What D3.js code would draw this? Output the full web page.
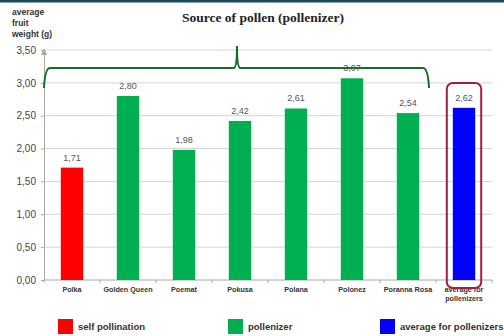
<!DOCTYPE html>
<html>
<head>
<meta charset="utf-8">
<script src="https://cdn.jsdelivr.net/npm/d3@7"></script>
<style>
  html, body { margin: 0; padding: 0; background: #fff; }
  svg { display: block; }
</style>
</head>
<body>
<script>
// Average fruit weight of 'Polka' raspberry by pollen source
const categories = ["Polka", "Golden Queen", "Poemat", "Pokusa", "Polana", "Polonez", "Poranna Rosa", "average for pollenizers"];
const values = [1.71, 2.80, 1.98, 2.42, 2.61, 3.07, 2.54, 2.62];
const groups = ["self", "pollenizer", "pollenizer", "pollenizer", "pollenizer", "pollenizer", "pollenizer", "average"];
const yTicks = [0, 0.5, 1.0, 1.5, 2.0, 2.5, 3.0, 3.5];
const legendLabels = ["self pollination", "pollenizer", "average for pollenizers"];
const legendKeys = ["self", "pollenizer", "average"];

const W = 504, H = 336;
const colors = { self: "#ff0000", pollenizer: "#00b050", average: "#0000ff" };
const fmt = v => d3.format(".2f")(v).replace(".", ",");

const svg = d3.select("body").append("svg").attr("width", W).attr("height", H);

// top frame strip
svg.append("rect").attr("x", 0).attr("y", 0).attr("width", W).attr("height", 2.5).attr("fill", "#1d4b5c");

const x = d3.scaleBand().domain(categories).range([44, 492]).paddingInner(0.6).paddingOuter(0.3);
const y = d3.scaleLinear().domain([0, 3.5]).range([280, 50]);

// gridlines
svg.append("g").selectAll("line").data(yTicks.filter(t => t > 0)).join("line")
  .attr("x1", 44).attr("x2", 492)
  .attr("y1", d => y(d)).attr("y2", d => y(d))
  .attr("stroke", "#d4d4d4").attr("stroke-width", 1);

// y axis
const yAxis = svg.append("g").attr("transform", "translate(44,0)")
  .call(d3.axisLeft(y).tickValues(yTicks).tickFormat(fmt).tickSize(3).tickPadding(5));
yAxis.select(".domain").attr("stroke", "#a8a8a8");
yAxis.selectAll(".tick line").attr("stroke", "#a8a8a8");
yAxis.selectAll("text").attr("font-family", "Liberation Sans, Arial, sans-serif")
  .attr("font-size", 10).attr("fill", "#444");
// small arrow head on top of the value axis
svg.append("path").attr("d", `M41,${y(3.5) + 5}L44,${y(3.5) - 2}L47,${y(3.5) + 5}Z`).attr("fill", "#a8a8a8");

// x axis line with category separators
svg.append("line").attr("x1", 44).attr("x2", 492).attr("y1", y(0)).attr("y2", y(0))
  .attr("stroke", "#a8a8a8");
svg.append("g").selectAll("line").data(d3.range(categories.length + 1)).join("line")
  .attr("x1", i => 44 + i * (448 / categories.length))
  .attr("x2", i => 44 + i * (448 / categories.length))
  .attr("y1", y(0)).attr("y2", y(0) + 3)
  .attr("stroke", "#a8a8a8");

// bars
svg.append("g").selectAll("rect").data(categories).join("rect")
  .attr("x", d => x(d)).attr("width", x.bandwidth())
  .attr("y", (d, i) => y(values[i]))
  .attr("height", (d, i) => y(0) - y(values[i]))
  .attr("fill", (d, i) => colors[groups[i]]);

// value labels
svg.append("g").selectAll("text").data(categories).join("text")
  .attr("x", d => x(d) + x.bandwidth() / 2)
  .attr("y", (d, i) => y(values[i]) - 7)
  .attr("text-anchor", "middle")
  .attr("font-family", "Liberation Sans, Arial, sans-serif")
  .attr("font-size", 9).attr("fill", "#555")
  .text((d, i) => fmt(values[i]));

// category labels
const xl = svg.append("g").selectAll("text").data(categories).join("text")
  .attr("x", d => x(d) + x.bandwidth() / 2)
  .attr("y", 292)
  .attr("text-anchor", "middle")
  .attr("font-family", "Liberation Sans, Arial, sans-serif")
  .attr("font-size", 7.2).attr("font-weight", "bold").attr("fill", "#333");
xl.each(function(d) {
  const parts = d === "average for pollenizers" ? ["average for", "pollenizers"] : [d];
  d3.select(this).selectAll("tspan").data(parts).join("tspan")
    .attr("x", x(d) + x.bandwidth() / 2)
    .attr("dy", (p, i) => i === 0 ? 0 : 9)
    .text(p => p);
});

// bracket over the pollenizer group
const bx0 = 44, bx1 = 429, bTop = 68, bEnd = 88, peakX = 237, peakY = 46;
const bracket = d3.path();
bracket.moveTo(bx0, bEnd);
bracket.quadraticCurveTo(bx0 + 1, bTop, bx0 + 6, bTop);
bracket.lineTo(peakX - 3, bTop);
bracket.quadraticCurveTo(peakX, bTop - 1, peakX, peakY);
bracket.quadraticCurveTo(peakX, bTop - 1, peakX + 3, bTop);
bracket.lineTo(bx1 - 6, bTop);
bracket.quadraticCurveTo(bx1 - 1, bTop, bx1, bEnd);
svg.append("path").attr("d", bracket.toString())
  .attr("fill", "none").attr("stroke", "#1e6a2a").attr("stroke-width", 2);

// highlight frame around the average bar
const avg = categories[categories.length - 1];
svg.append("rect")
  .attr("x", x(avg) - 6).attr("width", x.bandwidth() + 12)
  .attr("y", 83).attr("height", y(0) + 8 - 83)
  .attr("rx", 6).attr("fill", "none")
  .attr("stroke", "#a51e3c").attr("stroke-width", 2);

// title
svg.append("text").attr("x", 263).attr("y", 22).attr("text-anchor", "middle")
  .attr("font-family", "Liberation Serif, Times New Roman, serif")
  .attr("font-size", 13.5).attr("font-weight", "bold").attr("fill", "#222")
  .text("Source of pollen (pollenizer)");

// y axis title
svg.append("text").attr("font-family", "Liberation Sans, Arial, sans-serif")
  .attr("font-size", 8.5).attr("font-weight", "bold").attr("fill", "#333")
  .selectAll("tspan").data(["average", "fruit", "weight (g)"]).join("tspan")
  .attr("x", 12).attr("y", (d, i) => 15 + i * 11).text(d => d);

// legend
const legendX = [58, 228, 380];
const lg = svg.append("g").selectAll("g").data(legendLabels).join("g")
  .attr("transform", (d, i) => `translate(${legendX[i]},319)`);
lg.append("rect").attr("width", 15).attr("height", 15)
  .attr("fill", (d, i) => colors[legendKeys[i]]);
lg.append("text").attr("x", 20).attr("y", 11)
  .attr("font-family", "Liberation Sans, Arial, sans-serif")
  .attr("font-size", 9.5).attr("font-weight", "bold").attr("fill", "#333")
  .text(d => d);
</script>
</body>
</html>
